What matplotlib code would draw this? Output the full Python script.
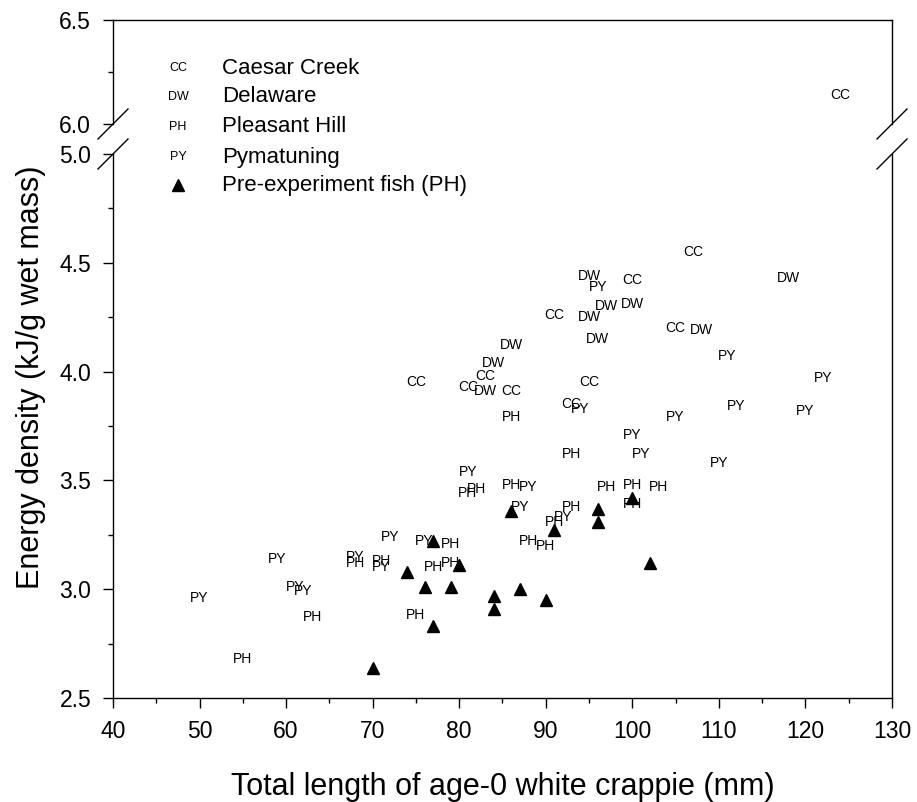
import matplotlib
matplotlib.use('Agg')
import matplotlib.pyplot as plt
from matplotlib.lines import Line2D
from matplotlib.ticker import MultipleLocator, FixedLocator

plt.rcParams['font.family'] = ['Liberation Sans', 'DejaVu Sans']

# ---------------- data ----------------
cc_len = [124, 75, 81, 83, 86, 91, 100, 95, 93, 107, 105]
cc_ed = [6.14, 3.95, 3.93, 3.98, 3.91, 4.26, 4.42, 3.95, 3.85, 4.55, 4.20]

dw_len = [95, 97, 100, 95, 96, 86, 84, 83, 108, 118]
dw_ed = [4.44, 4.30, 4.31, 4.25, 4.15, 4.12, 4.04, 3.91, 4.19, 4.43]

ph_len = [86, 93, 81, 82, 86, 93, 91, 97, 100, 103, 100, 88, 90, 79, 68, 71, 77, 79, 63, 75, 55]
ph_ed = [3.79, 3.62, 3.44, 3.46, 3.48, 3.38, 3.31, 3.47, 3.48, 3.47, 3.39, 3.22, 3.20, 3.21,
         3.12, 3.13, 3.10, 3.12, 2.87, 2.88, 2.68]

py_len = [96, 94, 111, 122, 112, 120, 105, 100, 101, 110, 81, 88, 87, 92, 72, 76, 59, 68, 71, 50, 61, 62]
py_ed = [4.39, 3.83, 4.07, 3.97, 3.84, 3.82, 3.79, 3.71, 3.62, 3.58, 3.54, 3.47, 3.38, 3.33,
         3.24, 3.22, 3.14, 3.15, 3.10, 2.96, 3.01, 2.99]

pre_len = [86, 91, 100, 96, 96, 102, 77, 74, 80, 76, 79, 77, 70, 84, 84, 87, 90]
pre_ed = [3.36, 3.27, 3.42, 3.37, 3.31, 3.12, 3.22, 3.08, 3.11, 3.01, 3.01, 2.83, 2.64, 2.97,
          2.91, 3.00, 2.95]

codes = ['CC', 'DW', 'PH', 'PY']
names = ['Caesar Creek', 'Delaware', 'Pleasant Hill', 'Pymatuning']
pre_name = 'Pre-experiment fish (PH)'

xlim = (40, 130)
ylim_lo = (2.5, 5.0)
ylim_hi = (6.0, 6.5)
xlabel = 'Total length of age-0 white crappie (mm)'
ylabel = 'Energy density (kJ/g wet mass)'

# ---------------- layout ----------------
W, H = 917, 802
fig = plt.figure(figsize=(W / 100, H / 100), dpi=100)
L, R = 113, 892
lo_top, lo_bot = 154, 698
hi_top, hi_bot = 20, 124


def rect(top, bot):
    return [L / W, 1 - bot / H, (R - L) / W, (bot - top) / H]


ax_lo = fig.add_axes(rect(lo_top, lo_bot))
ax_hi = fig.add_axes(rect(hi_top, hi_bot), sharex=ax_lo)

ax_lo.set_xlim(*xlim)
ax_lo.set_ylim(*ylim_lo)
ax_hi.set_ylim(*ylim_hi)

lw = 1.0
for ax in (ax_lo, ax_hi):
    for s in ax.spines.values():
        s.set_linewidth(lw)
ax_lo.spines['top'].set_visible(False)
ax_hi.spines['bottom'].set_visible(False)

ax_lo.xaxis.set_major_locator(MultipleLocator(10))
ax_lo.xaxis.set_minor_locator(MultipleLocator(5))
ax_lo.yaxis.set_major_locator(MultipleLocator(0.5))
ax_lo.yaxis.set_minor_locator(MultipleLocator(0.25))
ax_hi.yaxis.set_major_locator(FixedLocator([6.0, 6.5]))
ax_hi.yaxis.set_minor_locator(FixedLocator([6.25]))

for ax in (ax_lo, ax_hi):
    ax.tick_params(which='major', direction='out', length=7.2, width=lw, labelsize=16.5,
                   top=False, right=False)
    ax.tick_params(which='minor', direction='out', length=3.5, width=lw, top=False, right=False)
    ax.yaxis.set_major_formatter(matplotlib.ticker.FormatStrFormatter('%.1f'))
ax_lo.tick_params(axis='x', which='major', pad=9)
ax_lo.tick_params(axis='y', which='major', pad=8.5)
ax_hi.tick_params(axis='y', which='major', pad=8.5)
ax_hi.tick_params(axis='x', which='both', bottom=False, labelbottom=False)

# ---------------- data labels ----------------
series = [(cc_len, cc_ed, codes[0]), (dw_len, dw_ed, codes[1]),
          (ph_len, ph_ed, codes[2]), (py_len, py_ed, codes[3])]
for xs, ys, code in series:
    for x, y in zip(xs, ys):
        ax = ax_hi if y >= ylim_hi[0] else ax_lo
        ax.text(x, y, code, ha='center', va='center', fontsize=10)

ax_lo.plot(pre_len, pre_ed, linestyle='none', marker='^', ms=9, color='black')

# ---------------- break marks ----------------
for cx in (L, R):
    for cy in (hi_bot, lo_top):
        fig.add_artist(Line2D([(cx - 15) / W, (cx + 15) / W],
                              [1 - (cy + 15) / H, 1 - (cy - 15) / H],
                              transform=fig.transFigure, color='black', lw=lw))

# ---------------- legend ----------------
rows = [68, 97, 127, 157, 185]
mx, tx = 178, 222
for code, name, ry in zip(codes, names, rows):
    fig.text(mx / W, 1 - ry / H, code, ha='center', va='center', fontsize=9)
    fig.text(tx / W, 1 - ry / H, name, ha='left', va='center', fontsize=16)
fig.add_artist(Line2D([mx / W], [1 - rows[4] / H], marker='^', ms=9, color='black',
                      linestyle='none', transform=fig.transFigure))
fig.text(tx / W, 1 - rows[4] / H, pre_name, ha='left', va='center', fontsize=16)

# ---------------- axis labels ----------------
fig.text((L + R) / 2 / W, 1 - 795 / H, xlabel, ha='center', va='baseline', fontsize=22)
fig.text(31 / W, 1 - 377 / H, ylabel, ha='center', va='center', rotation=90, fontsize=22)

fig.savefig('out.png', dpi=100)
